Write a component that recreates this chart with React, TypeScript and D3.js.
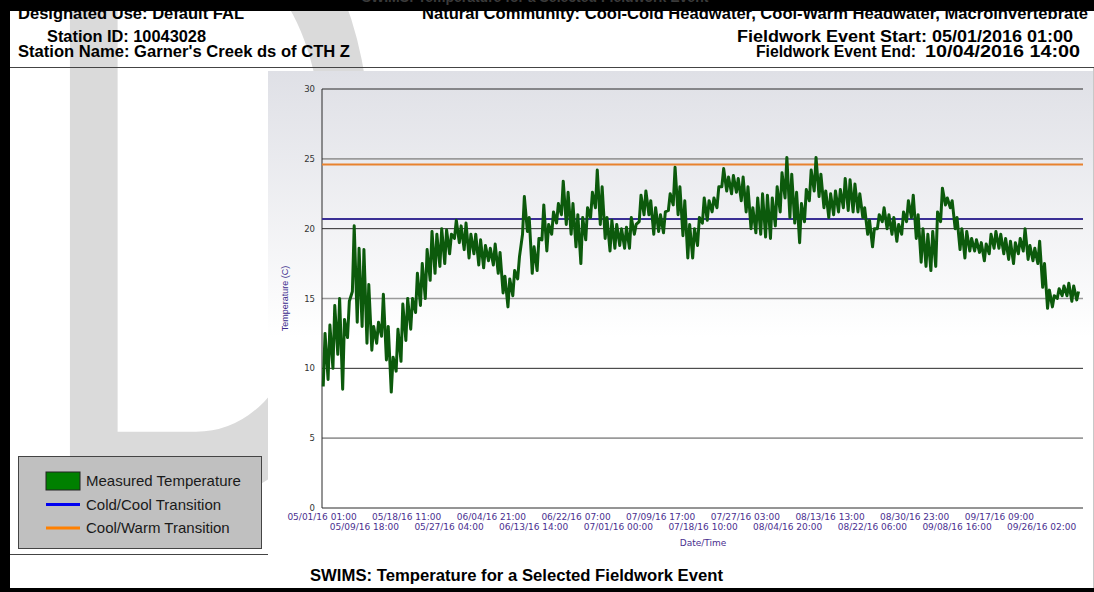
import React from 'react';
import * as d3 from 'd3';

// Fieldwork event window (UTC, hourly logger)
const eventStart = new Date(Date.UTC(2016, 4, 1, 1));
const eventEnd = new Date(Date.UTC(2016, 9, 4, 14));

// Daily low / high water temperature (°C), one entry per day from 05/01/2016
const dailyLow = [
  8.7, 9.2, 10.0, 11.0, 8.5, 12.2, 15.5, 13.3, 13.0, 11.8,
  11.3, 11.8, 12.3, 10.6, 8.3, 9.8, 10.5, 12.0, 12.8, 14.0,
  14.5, 15.0, 16.3, 16.8, 17.3, 17.5, 18.2, 19.3, 19.0, 18.5,
  17.9, 18.2, 17.4, 17.2, 17.7, 17.4, 16.8, 15.4, 14.4, 15.2,
  16.4, 19.6, 19.8, 16.8, 17.0, 19.2, 18.4, 19.6, 20.4, 21.0,
  20.3, 19.6, 18.7, 17.5, 19.2, 20.8, 21.5, 20.3, 19.3, 18.4,
  18.6, 18.8, 18.6, 18.6, 19.6, 20.5, 21.0, 21.0, 19.6, 19.8,
  19.7, 21.3, 21.7, 21.0, 19.5, 17.9, 17.9, 18.8, 20.4, 20.6,
  21.2, 21.5, 23.0, 22.7, 22.5, 22.6, 22.0, 21.2, 20.0, 19.7,
  19.6, 19.4, 19.3, 20.2, 21.2, 22.2, 20.8, 20.4, 19.0, 20.5,
  22.0, 22.7, 22.3, 21.5, 20.8, 21.0, 21.2, 21.5, 21.3, 21.2,
  21.2, 20.8, 19.6, 18.7, 20.0, 20.5, 20.0, 19.6, 19.1, 19.6,
  20.5, 20.8, 19.3, 17.6, 17.3, 17.0, 17.3, 20.5, 21.7, 21.5,
  20.0, 18.5, 17.9, 18.4, 18.4, 18.3, 17.7, 18.2, 18.6, 18.6,
  18.2, 17.8, 17.5, 18.2, 18.4, 17.8, 17.7, 17.5, 15.8, 14.3,
  14.4, 15.0, 15.2, 15.2, 14.8, 14.9,
];
const dailyHigh = [
  12.5, 13.1, 14.5, 15.0, 13.5, 14.8, 20.2, 18.6, 18.5, 16.0,
  13.0, 13.3, 15.3, 13.0, 10.8, 12.8, 14.6, 15.0, 15.0, 16.8,
  17.5, 18.5, 19.8, 19.6, 20.0, 19.9, 19.6, 20.6, 20.2, 20.4,
  19.6, 19.6, 19.2, 18.8, 18.6, 18.9, 18.3, 16.6, 16.4, 17.0,
  18.0, 22.3, 20.8, 18.7, 19.3, 21.7, 20.3, 21.2, 21.8, 23.4,
  22.6, 21.8, 21.0, 20.8, 21.5, 22.6, 24.2, 23.0, 20.8, 20.6,
  20.3, 20.0, 20.1, 20.8, 20.3, 22.4, 22.7, 22.0, 21.5, 21.0,
  21.2, 22.5, 24.4, 23.0, 22.0, 20.3, 20.0, 20.8, 22.2, 22.0,
  22.2, 23.0, 24.3, 23.7, 23.8, 23.6, 23.7, 23.0, 21.5, 22.2,
  22.5, 22.4, 22.2, 23.0, 24.0, 25.1, 23.9, 22.6, 21.8, 22.8,
  24.2, 25.1, 23.9, 22.7, 22.5, 22.7, 22.8, 23.6, 23.5, 23.2,
  22.5, 21.5, 20.6, 20.0, 21.0, 21.5, 21.0, 20.8, 20.3, 21.2,
  22.0, 22.4, 21.0, 20.0, 19.6, 19.8, 21.2, 22.9, 22.2, 22.0,
  20.8, 20.0, 19.8, 19.3, 19.2, 19.0, 18.9, 19.6, 19.8, 19.6,
  19.3, 19.1, 19.0, 19.3, 20.0, 18.8, 18.6, 19.1, 17.5, 15.6,
  15.2, 15.7, 15.9, 16.1, 15.9, 15.5,
];

// Transition thresholds (°C)
const coldCoolTransition = 20.7;
const coolWarmTransition = 24.6;

const yTicks = [0, 5, 10, 15, 20, 25, 30];
const tickStepHours = 209;
const tickCount = 18;

const headerRows = [
  { text: 'Designated Use: Default FAL', x: 18, y: 19, w: 226 },
  { text: 'Natural Community: Cool-Cold Headwater, Cool-Warm Headwater, Macroinvertebrate', x: 422, y: 19, w: 666 },
  { text: 'Station ID: 10043028', x: 47, y: 42, w: 159 },
  { text: 'Fieldwork Event Start: 05/01/2016 01:00', x: 737, y: 42, w: 336 },
  { text: "Station Name: Garner's Creek ds of CTH Z", x: 18, y: 57, w: 332 },
  { text: 'Fieldwork Event End:', x: 756, y: 57, w: 160 },
  { text: '10/04/2016 14:00', x: 925, y: 57, w: 155 },
];

const footerTitle = 'SWIMS:  Temperature for a Selected Fieldwork Event';

const legendItems = [
  { label: 'Measured Temperature', kind: 'box', color: '#008000' },
  { label: 'Cold/Cool Transition', kind: 'line', color: '#0000f0' },
  { label: 'Cool/Warm Transition', kind: 'line', color: '#ff8000' },
];

const HOUR = 3600 * 1000;

export default function App() {
  const W = 1094;
  const H = 592;
  const plot = { left: 322, right: 1083, top: 89, bottom: 508 };

  const x = d3.scaleUtc().domain([eventStart, eventEnd]).range([plot.left, plot.right]);
  const y = d3.scaleLinear().domain([0, 30]).range([plot.bottom, plot.top]);

  const series: { t: Date; v: number }[] = [];
  dailyLow.forEach((lo, d) => {
    const base = eventStart.getTime() + d * 24 * HOUR;
    series.push({ t: new Date(base + 6 * HOUR), v: lo });
    series.push({ t: new Date(base + 15 * HOUR), v: dailyHigh[d] });
  });
  const line = d3
    .line<{ t: Date; v: number }>()
    .x((p) => x(p.t))
    .y((p) => y(p.v));

  const fmt = d3.utcFormat('%m/%d/%y %H:%M');
  const ticks = d3.range(tickCount).map((i) => new Date(eventStart.getTime() + i * tickStepHours * HOUR));

  const sans = "'Liberation Sans', Arial, sans-serif";
  const axisFont = "'DejaVu Sans', Verdana, sans-serif";

  return (
    <div style={{ position: 'absolute', left: 0, top: 0 }}>
      <svg width={W} height={H} viewBox={`0 0 ${W} ${H}`} style={{ display: 'block' }}>
        <defs>
          <linearGradient id="panelFill" x1="0" y1="0" x2="0" y2="1">
            <stop offset="0" stopColor="#dfe0e6" />
            <stop offset="0.55" stopColor="#ffffff" />
            <stop offset="1" stopColor="#ffffff" />
          </linearGradient>
          <clipPath id="topBar">
            <rect x={0} y={0} width={W} height={11} />
          </clipPath>
        </defs>

        <rect x={0} y={0} width={W} height={H} fill="#ffffff" />

        {/* watermark */}
        <g fill="#dadada" fontFamily={sans}>
          <text transform="translate(28,499) scale(0.568,1)" fontSize={900}>D</text>
        </g>

        {/* header */}
        <rect x={0} y={0} width={W} height={11} fill="#000" />
        <g clipPath="url(#topBar)">
          <text x={535} y={2} textAnchor="middle" fontFamily={sans} fontWeight="bold" fontSize={14} fill="#3a3a3a">
            {footerTitle}
          </text>
        </g>
        <g fontFamily={sans} fontWeight="bold" fontSize={16} fill="#000">
          {headerRows.map((r) => (
            <text key={r.text} x={r.x} y={r.y} textLength={r.w} lengthAdjust="spacingAndGlyphs">
              {r.text}
            </text>
          ))}
        </g>
        <line x1={10} x2={W} y1={67.5} y2={67.5} stroke="#444" />

        {/* frame */}
        <rect x={0} y={0} width={10} height={H} fill="#000" />
        <rect x={0} y={588} width={W} height={4} fill="#000" />
        <line x1={1093.5} x2={1093.5} y1={68} y2={588} stroke="#c8c8c8" />
        <line x1={10} x2={268} y1={554.5} y2={554.5} stroke="#444" />

        {/* chart panel */}
        <rect x={268} y={71} width={825} height={484} fill="url(#panelFill)" />

        {/* gridlines */}
        {yTicks.map((t) => (
          <line
            key={t}
            x1={plot.left}
            x2={plot.right}
            y1={y(t)}
            y2={y(t)}
            stroke={t % 10 === 0 ? '#2a2a2a' : '#9a9a9a'}
            strokeWidth={t % 10 === 0 ? 1 : 1.6}
          />
        ))}
        <line x1={plot.left} x2={plot.left} y1={plot.top} y2={plot.bottom} stroke="#2a2a2a" />

        {/* thresholds */}
        <line x1={plot.left} x2={plot.right} y1={y(coolWarmTransition)} y2={y(coolWarmTransition)} stroke="#e8822e" strokeWidth={2} />
        <line x1={plot.left} x2={plot.right} y1={y(coldCoolTransition)} y2={y(coldCoolTransition)} stroke="#3a2f95" strokeWidth={2} />

        {/* measured temperature */}
        <path d={line(series) ?? ''} fill="none" stroke="#0c5a0c" strokeWidth={3} strokeLinejoin="round" />

        {/* y axis */}
        <g fontFamily={axisFont} fontSize={8.5} fill="#333" textAnchor="end">
          {yTicks.map((t) => (
            <text key={t} x={315} y={y(t) + 3}>
              {t}
            </text>
          ))}
        </g>
        <text
          transform={`translate(288,${(plot.top + plot.bottom) / 2}) rotate(-90)`}
          textAnchor="middle"
          fontFamily={sans}
          fontSize={9}
          fill="#3b2b8c"
        >
          Temperature (C)
        </text>

        {/* x axis */}
        <g fontFamily={axisFont} fontSize={9} fill="#4a2f8f" textAnchor="middle">
          {ticks.map((t, i) => (
            <text key={i} x={x(t)} y={i % 2 === 0 ? 520 : 529.5}>
              {fmt(t)}
            </text>
          ))}
        </g>
        <text x={703} y={546} textAnchor="middle" fontFamily={axisFont} fontSize={9} fill="#4a2f8f">
          Date/Time
        </text>

        {/* legend */}
        <rect x={18.5} y={456.5} width={243} height={92} fill="#c0c0c0" stroke="#444" />
        {legendItems.map((it, i) => {
          const cy = 481 + i * 23.5;
          return (
            <g key={it.label}>
              {it.kind === 'box' ? (
                <rect x={46} y={cy - 9} width={34} height={18} fill={it.color} stroke="#222" />
              ) : (
                <line x1={46} x2={80} y1={cy} y2={cy} stroke={it.color} strokeWidth={3} />
              )}
              <text x={86} y={cy + 5} fontFamily={sans} fontSize={15} fill="#1a1a1a">
                {it.label}
              </text>
            </g>
          );
        })}

        {/* footer title */}
        <text x={310} y={581} textLength={413} lengthAdjust="spacingAndGlyphs" fontFamily={sans} fontWeight="bold" fontSize={16} fill="#000">
          {footerTitle}
        </text>
      </svg>
    </div>
  );
}
